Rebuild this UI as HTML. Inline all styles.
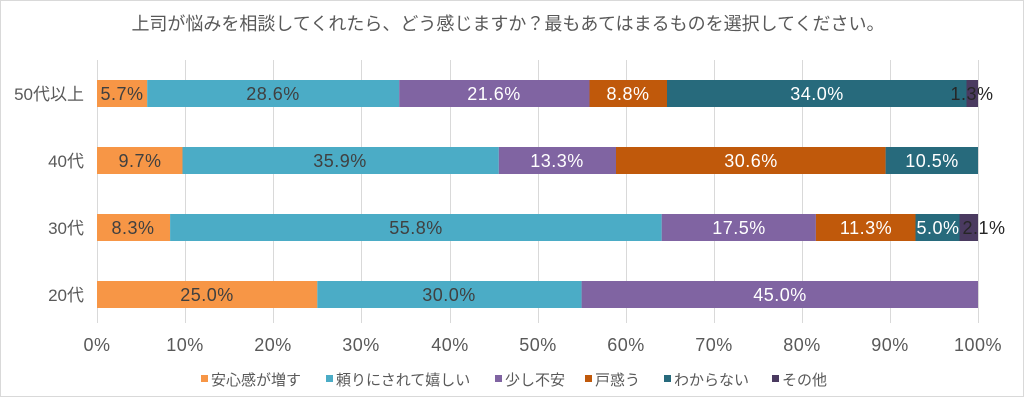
<!DOCTYPE html>
<html><head><meta charset="utf-8"><style>
html,body{margin:0;padding:0;background:#fff;}
svg{display:block;font-family:"Liberation Sans","Noto Sans CJK JP",sans-serif;}
</style></head><body>
<svg width="1024" height="402" xmlns="http://www.w3.org/2000/svg">
<rect x="0.5" y="0.5" width="1023" height="396" fill="#fff" stroke="#d9d9d9"/>
<text x="508" y="30" font-size="18" fill="#595959" text-anchor="middle">上司が悩みを相談してくれたら、どう感じますか？最もあてはまるものを選択してください。</text>
<g stroke="#d9d9d9" stroke-width="1">
<line x1="97.5" y1="60" x2="97.5" y2="323"/><line x1="185.5" y1="60" x2="185.5" y2="323"/><line x1="273.5" y1="60" x2="273.5" y2="323"/><line x1="361.5" y1="60" x2="361.5" y2="323"/><line x1="450.5" y1="60" x2="450.5" y2="323"/><line x1="538.5" y1="60" x2="538.5" y2="323"/><line x1="626.5" y1="60" x2="626.5" y2="323"/><line x1="714.5" y1="60" x2="714.5" y2="323"/><line x1="802.5" y1="60" x2="802.5" y2="323"/><line x1="890.5" y1="60" x2="890.5" y2="323"/><line x1="978.5" y1="60" x2="978.5" y2="323"/>
</g>
<g>
<rect x="97" y="80" width="50.2" height="27" fill="#F79646"/>
<rect x="147.2" y="80" width="252" height="27" fill="#4BACC6"/>
<rect x="399.2" y="80" width="190.3" height="27" fill="#8064A2"/>
<rect x="589.5" y="80" width="77.5" height="27" fill="#C0590B"/>
<rect x="667" y="80" width="299.5" height="27" fill="#276A7C"/>
<rect x="966.5" y="80" width="11.5" height="27" fill="#4A3A60"/>
</g>
<g>
<rect x="97" y="147" width="85.5" height="27" fill="#F79646"/>
<rect x="182.5" y="147" width="316.3" height="27" fill="#4BACC6"/>
<rect x="498.8" y="147" width="117.2" height="27" fill="#8064A2"/>
<rect x="616" y="147" width="269.6" height="27" fill="#C0590B"/>
<rect x="885.6" y="147" width="92.4" height="27" fill="#276A7C"/>
</g>
<g>
<rect x="97" y="214" width="73.1" height="27" fill="#F79646"/>
<rect x="170.1" y="214" width="491.6" height="27" fill="#4BACC6"/>
<rect x="661.7" y="214" width="154.2" height="27" fill="#8064A2"/>
<rect x="815.9" y="214" width="99.6" height="27" fill="#C0590B"/>
<rect x="915.5" y="214" width="44" height="27" fill="#276A7C"/>
<rect x="959.5" y="214" width="18.5" height="27" fill="#4A3A60"/>
</g>
<g>
<rect x="97" y="281" width="220.3" height="27" fill="#F79646"/>
<rect x="317.3" y="281" width="264.3" height="27" fill="#4BACC6"/>
<rect x="581.6" y="281" width="396.4" height="27" fill="#8064A2"/>
</g>
<g font-size="18" text-anchor="middle" letter-spacing="0.5">
<text x="122" y="100" fill="#404040">5.7%</text>
<text x="273" y="100" fill="#404040">28.6%</text>
<text x="494" y="100" fill="#fff">21.6%</text>
<text x="628" y="100" fill="#fff">8.8%</text>
<text x="817" y="100" fill="#fff">34.0%</text>
<text x="972" y="100" fill="#262626">1.3%</text>
<text x="140" y="167" fill="#404040">9.7%</text>
<text x="340" y="167" fill="#404040">35.9%</text>
<text x="557" y="167" fill="#fff">13.3%</text>
<text x="751" y="167" fill="#fff">30.6%</text>
<text x="932" y="167" fill="#fff">10.5%</text>
<text x="133" y="234" fill="#404040">8.3%</text>
<text x="416" y="234" fill="#404040">55.8%</text>
<text x="739" y="234" fill="#fff">17.5%</text>
<text x="866" y="234" fill="#fff">11.3%</text>
<text x="938" y="234" fill="#fff">5.0%</text>
<text x="984" y="234" fill="#262626">2.1%</text>
<text x="207" y="301" fill="#404040">25.0%</text>
<text x="449" y="301" fill="#404040">30.0%</text>
<text x="780" y="301" fill="#fff">45.0%</text>
</g>
<g font-size="17" fill="#595959" text-anchor="end">
<text x="84" y="100">50代以上</text>
<text x="84" y="167">40代</text>
<text x="84" y="234">30代</text>
<text x="84" y="301">20代</text>
</g>
<g font-size="18" fill="#595959" text-anchor="middle" letter-spacing="0.5">
<text x="97" y="351">0%</text><text x="185" y="351">10%</text><text x="273" y="351">20%</text><text x="361" y="351">30%</text><text x="450" y="351">40%</text><text x="538" y="351">50%</text><text x="626" y="351">60%</text><text x="714" y="351">70%</text><text x="802" y="351">80%</text><text x="890" y="351">90%</text><text x="978" y="351">100%</text>
</g>
<g font-size="15" fill="#595959">
<rect x="201" y="375" width="7" height="7" fill="#F79646"/><text x="211" y="385">安心感が増す</text>
<rect x="326" y="375" width="7" height="7" fill="#4BACC6"/><text x="336" y="385">頼りにされて嬉しい</text>
<rect x="495" y="375" width="7" height="7" fill="#8064A2"/><text x="505" y="385">少し不安</text>
<rect x="585" y="375" width="7" height="7" fill="#C0590B"/><text x="595" y="385">戸惑う</text>
<rect x="664" y="375" width="7" height="7" fill="#276A7C"/><text x="674" y="385">わからない</text>
<rect x="772" y="375" width="7" height="7" fill="#4A3A60"/><text x="782" y="385">その他</text>
</g>
</svg>
</body></html>
